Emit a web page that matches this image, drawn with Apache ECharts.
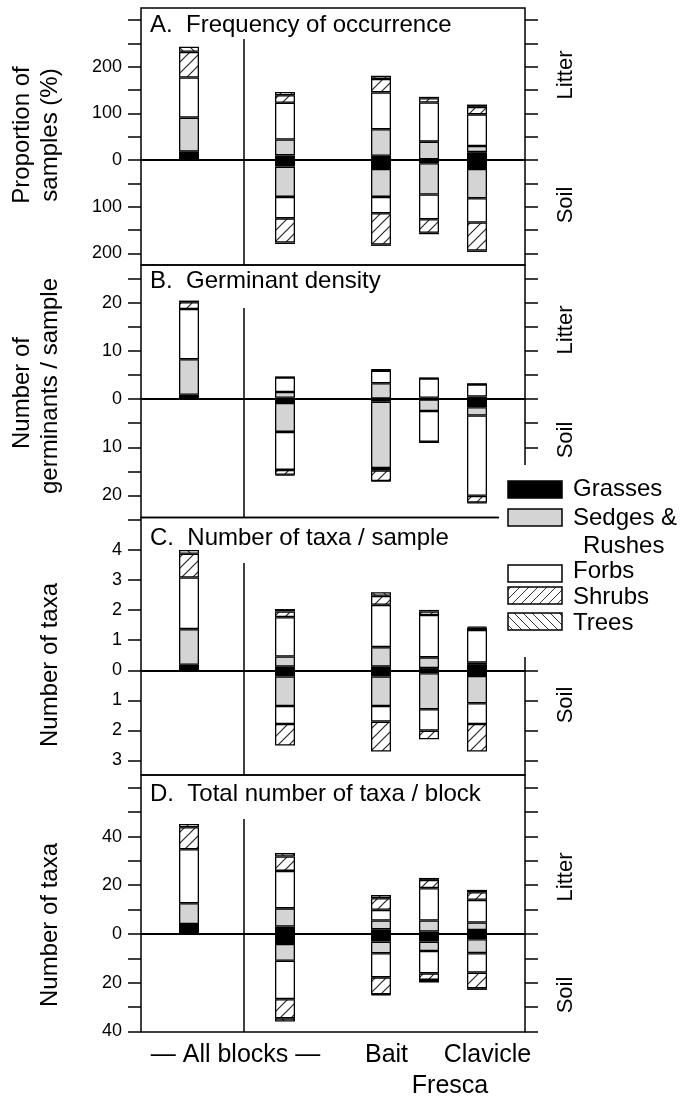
<!DOCTYPE html>
<html>
<head>
<meta charset="utf-8">
<script src="https://cdn.jsdelivr.net/npm/echarts@6/dist/echarts.min.js"></script>
<style>
  html, body { margin: 0; padding: 0; background: #fff; }
  #chart { width: 689px; height: 1097px; }
</style>
</head>
<body>
<div id="chart"></div>
<script>
const FONT = '"Liberation Sans", Arial, sans-serif';

const groups = ['Grasses', 'Sedges & Rushes', 'Forbs', 'Shrubs', 'Trees'];
// x slots along the axis; bars sit on slots 1, 3, 5, 6, 7
const slots = ['', 'All blocks (litter)', '', 'All blocks', '', 'Bait', 'Fresca', 'Clavicle', ''];
const barSlots = [1, 3, 5, 6, 7];

// rows = groups (Grasses, Sedges, Forbs, Shrubs, Trees), cols = bars
// A. Frequency of occurrence (%)
const freqLitter = [
  [18, 10, 9, 1.5, 17],
  [73, 34, 57, 38, 13],
  [86, 79, 79, 84, 68],
  [55, 16, 29, 9, 16],
  [11, 7, 7, 3, 5]
];
const freqSoil = [
  [null, 14, 19, 7, 19],
  [null, 65, 60, 67, 63],
  [null, 46, 35, 53, 52],
  [null, 52, 67, 29, 60],
  [null, 3, 3, 3, 3]
];
// B. Germinant density (germinants / sample)
const densLitter = [
  [0.9, 0.3, 0.15, 0.3, 0.55],
  [7.4, 1.2, 3.15, 0, 0],
  [10.45, 3.0, 2.6, 4.0, 2.5],
  [1.4, 0.05, 0.2, 0.05, 0.1],
  [0.35, 0.05, 0.05, 0.05, 0.05]
];
const densSoil = [
  [null, 0.8, 0.5, 0.05, 1.66],
  [null, 6.0, 13.8, 2.4, 1.74],
  [null, 7.9, 0.5, 6.4, 16.7],
  [null, 1.0, 2.2, 0.1, 1.4],
  [null, 0.15, 0.1, 0.05, 0.1]
];
// C. Number of taxa / sample
const taxaLitter = [
  [0.18, 0.12, 0.12, 0.07, 0.18],
  [1.19, 0.34, 0.65, 0.36, 0.08],
  [1.72, 1.31, 1.41, 1.41, 1.08],
  [0.79, 0.19, 0.30, 0.12, 0.08],
  [0.13, 0.08, 0.12, 0.05, 0.04]
];
const taxaSoil = [
  [null, 0.21, 0.21, 0.1, 0.19],
  [null, 0.98, 0.98, 1.2, 0.91],
  [null, 0.6, 0.52, 0.71, 0.69],
  [null, 0.72, 1.0, 0.29, 0.92],
  [null, 0, 0, 0, 0]
];
// D. Total number of taxa / block
const blockLitter = [
  [4.1, 3.0, 1.9, 1.0, 1.6],
  [8.5, 7.5, 3.6, 4.5, 3.1],
  [22.2, 15.4, 4.4, 13.3, 9.3],
  [9.0, 5.9, 4.8, 3.4, 3.1],
  [1.4, 1.4, 1.3, 0.8, 1.0]
];
const blockSoil = [
  [null, 4.1, 3.15, 3.15, 2.2],
  [null, 6.9, 4.8, 3.85, 5.7],
  [null, 15.8, 9.9, 9.2, 8.0],
  [null, 7.9, 7.0, 2.7, 6.4],
  [null, 1.3, 0.3, 1.1, 0.7]
];

// tick positions and labelled ticks
const ticksA = [-200, -150, -100, -50, 0, 50, 100, 150, 200, 250, 300];
const labelsA = [-200, -100, 0, 100, 200];
const ticksB = [-20, -15, -10, -5, 0, 5, 10, 15, 20, 25];
const labelsB = [-20, -10, 0, 10, 20];
const ticksC = [-3, -2, -1, 0, 1, 2, 3, 4, 5];
const labelsC = [-3, -2, -1, 0, 1, 2, 3, 4];
const ticksD = [-40, -30, -20, -10, 0, 10, 20, 30, 40, 50, 60];
const labelsD = [-40, -20, 0, 20, 40];

function hatch(dir, size, stroke, width) {
  const c = document.createElement('canvas');
  c.width = c.height = size;
  const g = c.getContext('2d');
  g.fillStyle = '#fff';
  g.fillRect(0, 0, size, size);
  g.strokeStyle = stroke;
  g.lineWidth = width;
  g.beginPath();
  if (dir === '/') {
    g.moveTo(0, size); g.lineTo(size, 0);
    g.moveTo(-size, size); g.lineTo(size, -size);
    g.moveTo(0, 2 * size); g.lineTo(2 * size, 0);
  } else {
    g.moveTo(0, 0); g.lineTo(size, size);
    g.moveTo(-size, 0); g.lineTo(size, 2 * size);
    g.moveTo(0, -size); g.lineTo(2 * size, size);
  }
  g.stroke();
  return { image: c, repeat: 'repeat' };
}

const fills = ['#000', '#d4d4d4', '#fff', hatch('/', 11, '#2e2424', 1.2), hatch('\\', 11, '#2e2424', 1.2)];
const legendFills = ['#000', '#d4d4d4', '#fff', hatch('/', 9, '#333', 1), hatch('\\', 9, '#333', 1)];

const panels = [
  { top: 8, height: 257, min: -225, max: 326, ticks: ticksA, labels: labelsA,
    litter: freqLitter, soil: freqSoil, title: 'A.  Frequency of occurrence', titleY: 25,
    divTop: 39, sides: [['Litter', 75], ['Soil', 205]] },
  { top: 265, height: 252.5, min: -24.6, max: 27.9, ticks: ticksB, labels: labelsB,
    litter: densLitter, soil: densSoil, title: 'B.  Germinant density', titleY: 281,
    divTop: 308, sides: [['Litter', 330], ['Soil', 440]] },
  { top: 517.5, height: 257.5, min: -3.49, max: 5.09, ticks: ticksC, labels: labelsC,
    litter: taxaLitter, soil: taxaSoil, title: 'C.  Number of taxa / sample', titleY: 538,
    divTop: 563, sides: [['Soil', 705]] },
  { top: 775, height: 257, min: -40.3, max: 65.3, ticks: ticksD, labels: labelsD,
    litter: blockLitter, soil: blockSoil, title: 'D.  Total number of taxa / block', titleY: 794,
    divTop: 819, sides: [['Litter', 877], ['Soil', 995]] }
];

const grid = [], xAxis = [], yAxis = [], series = [], graphic = [];

panels.forEach((p, pi) => {
  grid.push({ left: 141, width: 384, top: p.top, height: p.height, show: true,
    borderColor: '#000', borderWidth: 1.5, backgroundColor: 'transparent', outerBoundsMode: 'none' });
  xAxis.push({ type: 'category', gridIndex: pi, data: slots, boundaryGap: false,
    axisLine: { onZero: true, lineStyle: { color: '#000', width: 1.8 } },
    axisTick: { show: false }, axisLabel: { show: false }, splitLine: { show: false } });
  const tickStyle = { show: true, inside: false, length: 13, customValues: p.ticks,
    lineStyle: { color: '#000', width: 1.5 } };
  yAxis.push({ type: 'value', gridIndex: pi, min: p.min, max: p.max, position: 'left',
    axisLine: { show: false }, splitLine: { show: false }, axisTick: tickStyle,
    axisLabel: { customValues: p.labels, formatter: v => String(Math.abs(v)), margin: 19,
      fontSize: 18, color: '#000', fontFamily: FONT } });
  yAxis.push({ type: 'value', gridIndex: pi, min: p.min, max: p.max, position: 'right',
    axisLine: { show: false }, splitLine: { show: false }, axisTick: tickStyle,
    axisLabel: { show: false } });

  [[p.litter, 1], [p.soil, -1]].forEach(([rows, sign]) => {
    rows.forEach((vals, gi) => {
      series.push({
        type: 'bar', name: groups[gi], xAxisIndex: pi, yAxisIndex: pi * 2,
        stack: 'p' + pi, barWidth: 20, silent: true, animation: false,
        itemStyle: { color: fills[gi], borderColor: '#000', borderWidth: 1.3 },
        data: slots.map((_, si) => {
          const b = barSlots.indexOf(si);
          if (b < 0) return '-';
          const v = vals[b];
          return v ? sign * v : '-';
        })
      });
    });
  });

  graphic.push({ type: 'text', x: 150, y: p.titleY, z: 50,
    style: { text: p.title, font: '24px ' + FONT, fill: '#000', textAlign: 'left', textVerticalAlign: 'middle' } });
  graphic.push({ type: 'line', z: 50, shape: { x1: 244, y1: p.divTop, x2: 244, y2: p.top + p.height },
    style: { stroke: '#000', lineWidth: 1.5 } });
  p.sides.forEach(([t, y]) => {
    graphic.push({ type: 'text', x: 566, y: y, rotation: Math.PI / 2, z: 50,
      style: { text: t, font: '22px ' + FONT, fill: '#000', textAlign: 'center', textVerticalAlign: 'middle' } });
  });
});

// y-axis titles
[['Proportion of', 22, 135], ['samples (%)', 50, 135], ['Number of', 22, 393],
 ['germinants / sample', 50, 386], ['Number of taxa', 50, 665], ['Number of taxa', 50, 925]]
  .forEach(([t, x, y]) => {
    graphic.push({ type: 'text', x, y, rotation: Math.PI / 2, z: 50,
      style: { text: t, font: '24px ' + FONT, fill: '#000', textAlign: 'center', textVerticalAlign: 'middle' } });
  });

// bottom category labels
[['— All blocks —', 235.5, 1055], ['Bait', 386.5, 1055], ['Clavicle', 487.5, 1055], ['Fresca', 450, 1086]]
  .forEach(([t, x, y]) => {
    graphic.push({ type: 'text', x, y, z: 50,
      style: { text: t, font: '25px ' + FONT, fill: '#000', textAlign: 'center', textVerticalAlign: 'middle' } });
  });

// legend box
graphic.push({ type: 'rect', z: 90, shape: { x: 499, y: 465, width: 190, height: 192 },
  style: { fill: '#fff', stroke: null } });
const legendRows = [[481, 489], [509, 518], [565, 571], [587, 597], [613, 623]];
groups.forEach((g, gi) => {
  graphic.push({ type: 'rect', z: 95, shape: { x: 508, y: legendRows[gi][0], width: 54, height: 17 },
    style: { fill: legendFills[gi], stroke: '#000', lineWidth: 1.5 } });
  const label = gi === 1 ? 'Sedges &' : g;
  graphic.push({ type: 'text', z: 95, x: 573, y: legendRows[gi][1],
    style: { text: label, font: '24px ' + FONT, fill: '#000', textAlign: 'left', textVerticalAlign: 'middle' } });
});
graphic.push({ type: 'text', z: 95, x: 583, y: 546,
  style: { text: 'Rushes', font: '24px ' + FONT, fill: '#000', textAlign: 'left', textVerticalAlign: 'middle' } });

const chart = echarts.init(document.getElementById('chart'), null, { renderer: 'canvas' });
chart.setOption({
  animation: false,
  backgroundColor: '#fff',
  grid, xAxis, yAxis, series,
  graphic: { elements: graphic }
});
</script>
</body>
</html>
